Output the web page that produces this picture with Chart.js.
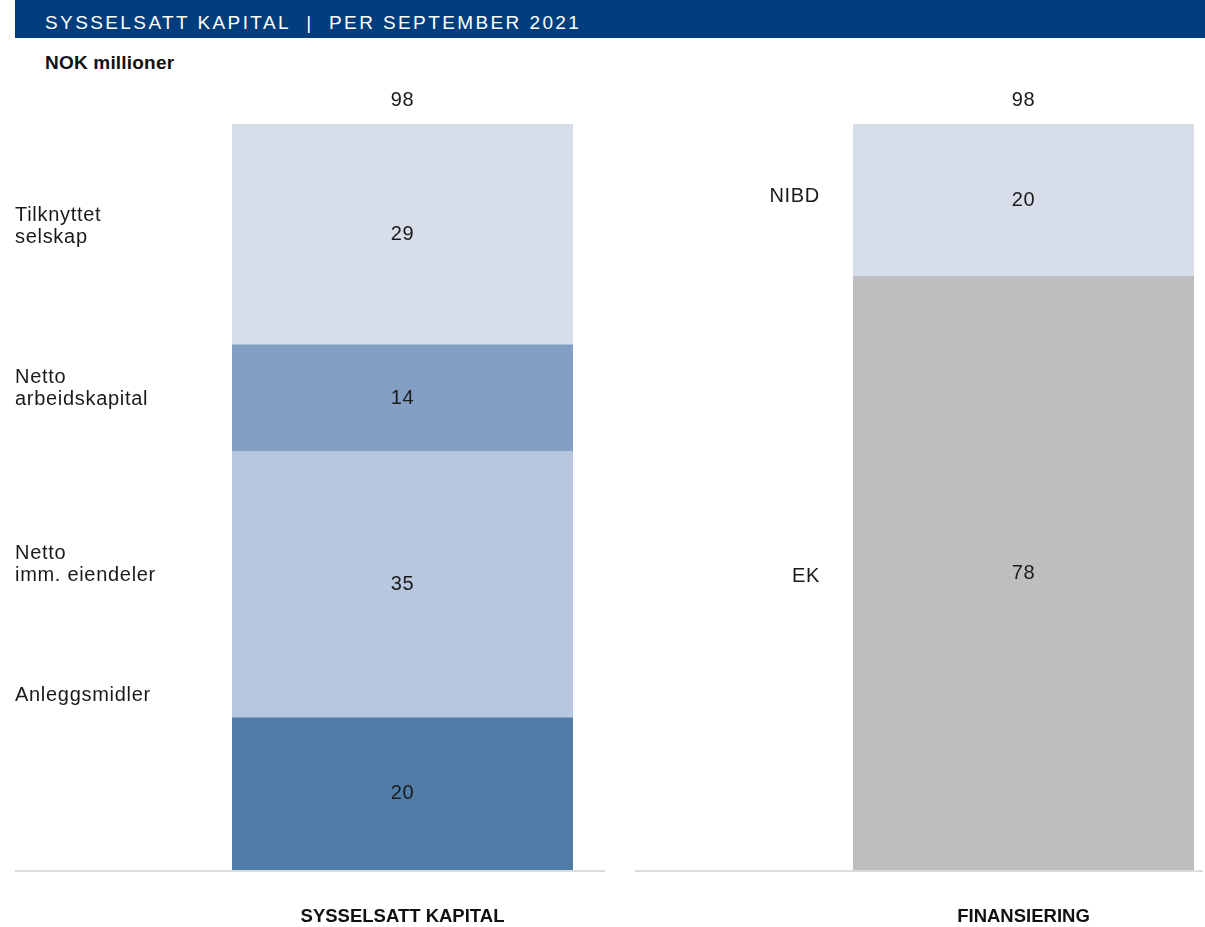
<!DOCTYPE html>
<html>
<head>
<meta charset="utf-8">
<script src="https://cdn.jsdelivr.net/npm/chart.js@4.4.1/dist/chart.umd.min.js"></script>
<style>
  html, body { margin: 0; padding: 0; background: #fff; }
  body { width: 1205px; height: 927px; position: relative; overflow: hidden; font-family: "Liberation Sans", Arial, sans-serif; }
  #titlebar { position: absolute; left: 15px; top: 0; width: 1190px; height: 38px; background: #003d7c; }
  #titlebar span { position: absolute; left: 30px; top: 12px; color: #fff; font-size: 19px; line-height: 22px; letter-spacing: 2.4px; font-family: "Liberation Sans", Arial, sans-serif; white-space: nowrap; }
  #unit { position: absolute; left: 45px; top: 52px; font-size: 19px; line-height: 22px; font-weight: bold; letter-spacing: 0.2px; color: #111; font-family: "Liberation Sans", Arial, sans-serif; }
  .wrap { position: absolute; top: 0; height: 927px; }
  #w1 { left: 15px; width: 590px; }
  #w2 { left: 635px; width: 570px; }
</style>
</head>
<body>
<div id="titlebar"><span>SYSSELSATT KAPITAL&nbsp;&nbsp;|&nbsp;&nbsp;PER SEPTEMBER 2021</span></div>
<div id="unit">NOK millioner</div>
<div class="wrap" id="w1"><canvas id="c1"></canvas></div>
<div class="wrap" id="w2"><canvas id="c2"></canvas></div>
<script>
// ---- data ----
const leftCategory = ["SYSSELSATT KAPITAL"];
const leftSeries = ["Anleggsmidler", "Netto\nimm. eiendeler", "Netto\narbeidskapital", "Tilknyttet\nselskap"];
const leftValues = [20, 35, 14, 29];
const leftTotal = 98;

const rightCategory = ["FINANSIERING"];
const rightSeries = ["EK", "NIBD"];
const rightValues = [78, 20];
const rightTotal = 98;

const yMax = 98;

// ---- styles ----
const leftColors = ["#527ca8", "#b8c7de", "#839fc4", "#d7deea"];
const rightColors = ["#bdbec0", "#d7deea"];
// value positions (in axis units) where the side labels are anchored
const leftLabelAnchors = [22.9, 40.1, 63.2, 84.6];
const rightLabelAnchors = [38.6, 88.5];

const textColor = "#1a1a1a";
const labelFont = '20px "Liberation Sans", Arial, sans-serif';

const annotate = {
  id: "annotate",
  afterDatasetsDraw(chart, args, opts) {
    const ctx = chart.ctx;
    const y = chart.scales.y;
    const area = chart.chartArea;
    ctx.save();
    // baseline
    ctx.strokeStyle = "#dcdcdc";
    ctx.lineWidth = 2;
    ctx.beginPath();
    ctx.moveTo(0, area.bottom + 1);
    ctx.lineTo(chart.width - opts.baseRightGap, area.bottom + 1);
    ctx.stroke();

    ctx.fillStyle = textColor;
    ctx.font = labelFont;
    ctx.letterSpacing = "0.7px";
    ctx.textBaseline = "middle";
    // value labels in segments
    chart.data.datasets.forEach((ds, i) => {
      const meta = chart.getDatasetMeta(i);
      const bar = meta.data[0];
      const cy = (bar.y + bar.base) / 2;
      ctx.textAlign = "center";
      ctx.fillText(String(ds.data[0]), bar.x, cy);
      // side label
      const lines = ds.label.split("\n");
      const ay = y.getPixelForValue(opts.anchors[i]);
      const lh = 22;
      ctx.textAlign = opts.sideAlign;
      const sx = opts.sideAlign === "left" ? 0 : area.left - opts.sideGap;
      lines.forEach((ln, k) => {
        ctx.fillText(ln, sx, ay + (k - (lines.length - 1) / 2) * lh);
      });
    });
    // total label above
    const meta0 = chart.getDatasetMeta(0);
    ctx.textAlign = "center";
    ctx.fillText(String(opts.total), meta0.data[0].x, y.getPixelForValue(opts.total) - 24);
    ctx.restore();
  }
};

function makeChart(id, cats, series, values, colors, anchors, total, padL, padR, sideAlign, sideGap, baseRightGap) {
  return new Chart(document.getElementById(id), {
    type: "bar",
    data: {
      labels: cats,
      datasets: series.map((s, i) => ({
        label: s,
        data: [values[i]],
        backgroundColor: colors[i],
        borderWidth: 0,
        barPercentage: 1,
        categoryPercentage: 1
      }))
    },
    options: {
      responsive: true,
      maintainAspectRatio: false,
      animation: false,
      layout: { padding: { top: 124, left: padL, right: padR, bottom: 0 } },
      plugins: {
        legend: { display: false },
        tooltip: { enabled: false },
        annotate: { anchors: anchors, total: total, sideAlign: sideAlign, sideGap: sideGap, baseRightGap: baseRightGap }
      },
      scales: {
        x: {
          stacked: true,
          grid: { display: false, drawTicks: false },
          border: { display: false },
          ticks: { color: "#111", font: { family: "'Liberation Sans', Arial, sans-serif", size: 18.5, weight: "bold" }, padding: 36 },
          afterFit(scale) { scale.height = 57; }
        },
        y: {
          stacked: true,
          display: false,
          min: 0,
          max: yMax
        }
      }
    },
    plugins: [annotate]
  });
}

makeChart("c1", leftCategory, leftSeries, leftValues, leftColors, leftLabelAnchors, leftTotal, 217, 32, "left", 0, 0);
makeChart("c2", rightCategory, rightSeries, rightValues, rightColors, rightLabelAnchors, rightTotal, 218, 11, "right", 33, 2);
</script>
</body>
</html>
